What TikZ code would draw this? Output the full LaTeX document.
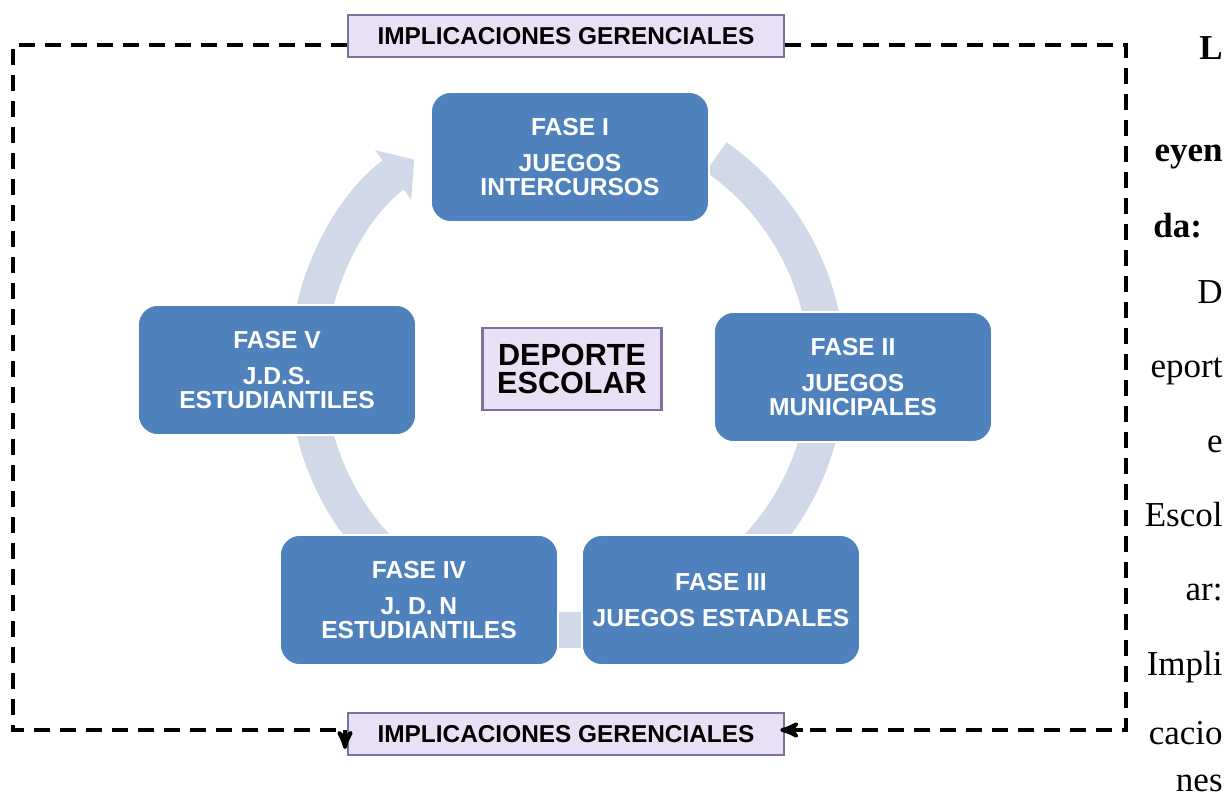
\documentclass[tikz,border=0pt]{standalone}
\usepackage{fontspec}
\setmainfont{Liberation Serif}
\setsansfont{Liberation Sans}
\usetikzlibrary{arrows,arrows.meta}
\definecolor{qqzzbb}{rgb}{0.31,0.51,0.74}
\definecolor{ddddee}{rgb}{0.82,0.85,0.91}
\definecolor{eeeeff}{rgb}{0.91,0.88,0.96}
\definecolor{ttqqzz}{rgb}{0.50,0.43,0.62}

\begin{document}
\begin{tikzpicture}[line cap=butt,line join=miter,>=stealth',
  x=0.5pt,y=-0.5pt,
  fase/.style={rectangle,rounded corners=10pt,fill=qqzzbb,draw=white,
  line width=0.8pt,text=white,align=center,inner sep=0pt,
  minimum width=139pt,minimum height=65pt,
  font=\sffamily\bfseries\fontsize{12.3}{11.8}\selectfont},
  etiq/.style={rectangle,fill=eeeeff,draw=ttqqzz,line width=1.2pt,
  inner sep=0pt,minimum width=218pt,minimum height=21pt,
  font=\sffamily\bfseries\fontsize{12.2}{12}\selectfont},
  centro/.style={rectangle,fill=eeeeff,draw=ttqqzz,line width=1.2pt,
  align=center,inner sep=0pt,minimum width=89.5pt,minimum height=41pt,
  font=\sffamily\bfseries\fontsize{15.3}{14}\selectfont},
  leyenda/.style={inner sep=0pt,font=\fontsize{17.5}{17.5}\selectfont},
  marco/.style={line width=2pt,dash pattern=on 8pt off 5pt}]
  \useasboundingbox (0,0) rectangle (1230,796);
  \draw [color=ddddee,line width=18pt,-{Triangle[width=30pt,length=13pt]}]
  (567,370) ++(-55:260) arc[start angle=-55,end angle=234,radius=260];
  \node[fase] (f1) at (570,157) {FASE I\\[6pt]JUEGOS\\INTERCURSOS};
  \node[fase] (f2) at (853,377) {FASE II\\[6pt]JUEGOS\\MUNICIPALES};
  \node[fase] (f3) at (721,600) {FASE III\\[6pt]JUEGOS ESTADALES};
  \node[fase] (f4) at (419,600) {FASE IV\\[6pt]J. D. N\\ESTUDIANTILES};
  \node[fase] (f5) at (277,370) {FASE V\\[6pt]J.D.S.\\ESTUDIANTILES};
  \node[centro] (dep) at (572,369) {DEPORTE\\ESCOLAR};
  \node[etiq] (igsup) at (566,36) {IMPLICACIONES GERENCIALES};
  \node[etiq] (iginf) at (566,734) {IMPLICACIONES GERENCIALES};
  \coordinate (a) at (13,45); \coordinate (b) at (13,730);
  \coordinate (c) at (345,730); \coordinate (d) at (345,749);
  \coordinate (e) at (1126,45); \coordinate (f) at (1126,730);
  \draw[marco] (igsup.west |- a) -- (a) -- (b) -- (c);
  \draw[->,line width=2pt] (c) -- (d);
  \draw[marco] (igsup.east |- e) -- (e) -- (f) -- (iginf.east |- f)
  [shorten >=8pt];
  \draw[->,line width=2pt,shorten >=-2.5pt] ([xshift=9pt]iginf.east |- f)
  -- (iginf.east |- f);
  \begin{scope}[every node/.style={leyenda,anchor=base east}]
    \node[font=\fontsize{17.5}{17.5}\selectfont\bfseries] (l1) at (1223,60) {L};
    \node[font=\fontsize{17.5}{17.5}\selectfont\bfseries] (l2) at (1223,162) {eyen};
    \node[font=\fontsize{17.5}{17.5}\selectfont\bfseries,anchor=base west]
    (l3) at (1153,238) {da:};
    \node (l4) at (1223,304) {D};
    \node (l5) at (1223,378) {eport};
    \node (l6) at (1223,452) {e};
    \node (l7) at (1223,526) {Escol};
    \node (l8) at (1223,600) {ar:};
    \node (l9) at (1223,675) {Impli};
    \node (l10) at (1223,744) {cacio};
    \node (l11) at (1223,791) {nes};
  \end{scope}
\end{tikzpicture}
\end{document}
